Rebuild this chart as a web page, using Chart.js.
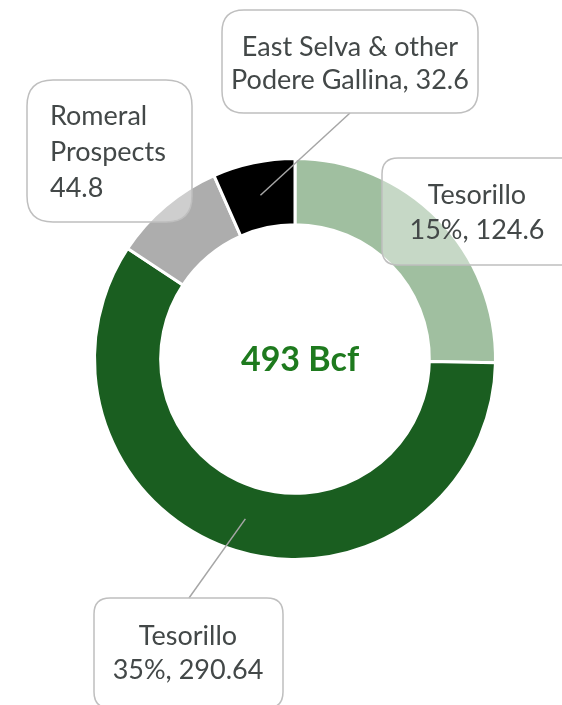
<!DOCTYPE html>
<html>
<head>
<meta charset="utf-8">
<script src="https://cdn.jsdelivr.net/npm/chart.js@4/dist/chart.umd.min.js"></script>
<style>
  html, body { margin: 0; padding: 0; background: #fff; }
  #wrap { width: 562px; height: 705px; }
</style>
</head>
<body>
<div id="wrap"><canvas id="myChart" width="562" height="705"></canvas></div>
<script>
// data
const segmentNames = ["Tesorillo", "Tesorillo", "Romeral Prospects", "East Selva & other Podere Gallina"];
const segmentValues = [124.6, 290.64, 44.8, 32.6];
const segmentColors = ["#a0bfa0", "#1a5e20", "#adadad", "#000000"];
const calloutLines = [
  ["Tesorillo", "15%, 124.6"],
  ["Tesorillo", "35%, 290.64"],
  ["Romeral", "Prospects", "44.8"],
  ["East Selva & other", "Podere Gallina, 32.6"]
];
const centerText = "493 Bcf";

// box layout for each callout: x, y, w, h, radius, align, leader?
const boxes = [
  { x: 382, y: 158, w: 200, h: 107, r: 16, align: "center", tx: 477, leader: false },
  { x: 94, y: 598, w: 189, h: 110, r: 16, align: "center", tx: 188, leader: true, ex: 189, ey: 598 },
  { x: 27, y: 80, w: 165, h: 142, r: 26, align: "left", tx: 50, leader: false },
  { x: 222, y: 10, w: 256, h: 103, r: 22, align: "center", tx: 350, leader: true, ex: 350, ey: 113 }
];
const textTops = [[195, 230], [636, 670], [116, 152, 188], [47, 80]];

function roundRect(ctx, x, y, w, h, r) {
  ctx.beginPath();
  ctx.moveTo(x + r, y);
  ctx.lineTo(x + w - r, y);
  ctx.quadraticCurveTo(x + w, y, x + w, y + r);
  ctx.lineTo(x + w, y + h - r);
  ctx.quadraticCurveTo(x + w, y + h, x + w - r, y + h);
  ctx.lineTo(x + r, y + h);
  ctx.quadraticCurveTo(x, y + h, x, y + h - r);
  ctx.lineTo(x, y + r);
  ctx.quadraticCurveTo(x, y, x + r, y);
  ctx.closePath();
}

const calloutPlugin = {
  id: "callouts",
  afterDatasetsDraw(chart) {
    const ctx = chart.ctx;
    const meta = chart.getDatasetMeta(0);
    ctx.save();
    // leader lines
    boxes.forEach((b, i) => {
      if (!b.leader) return;
      const p = meta.data[i].tooltipPosition();
      ctx.strokeStyle = "#a6a6a6";
      ctx.lineWidth = 1.5;
      ctx.beginPath();
      ctx.moveTo(p.x, p.y);
      ctx.lineTo(b.ex, b.ey);
      ctx.stroke();
    });
    // boxes and text
    boxes.forEach((b, i) => {
      roundRect(ctx, b.x, b.y, b.w, b.h, b.r);
      ctx.fillStyle = "rgba(255,255,255,0.4)";
      ctx.fill();
      ctx.strokeStyle = "#bfbfbf";
      ctx.lineWidth = 1.5;
      ctx.stroke();
      ctx.fillStyle = "#434848";
      ctx.font = "27px Lato, 'Open Sans', sans-serif";
      ctx.textAlign = b.align;
      ctx.textBaseline = "middle";
      calloutLines[i].forEach((t, j) => {
        ctx.fillText(t, b.tx, textTops[i][j]);
      });
    });
    // centre total
    const arc = meta.data[0];
    ctx.fillStyle = "#1e7a1e";
    ctx.font = "bold 34px Lato, 'Open Sans', sans-serif";
    ctx.textAlign = "center";
    ctx.textBaseline = "middle";
    ctx.fillText(centerText, arc.x + 5, arc.y + 1);
    ctx.restore();
  }
};

let ctx = document.getElementById("myChart");

let chart = new Chart(ctx, {
  type: "doughnut",
  data: {
    labels: segmentNames,
    datasets: [
      {
        data: segmentValues,
        backgroundColor: segmentColors,
        borderColor: "#ffffff",
        borderWidth: 3,
      },
    ],
  },
  options: {
    responsive: false,
    animation: false,
    cutout: "67%",
    layout: {
      padding: { left: 93, right: 65, top: 157, bottom: 144 },
    },
    plugins: {
      legend: { display: false },
      tooltip: { enabled: false },
    },
  },
  plugins: [calloutPlugin],
});
</script>
</body>
</html>
